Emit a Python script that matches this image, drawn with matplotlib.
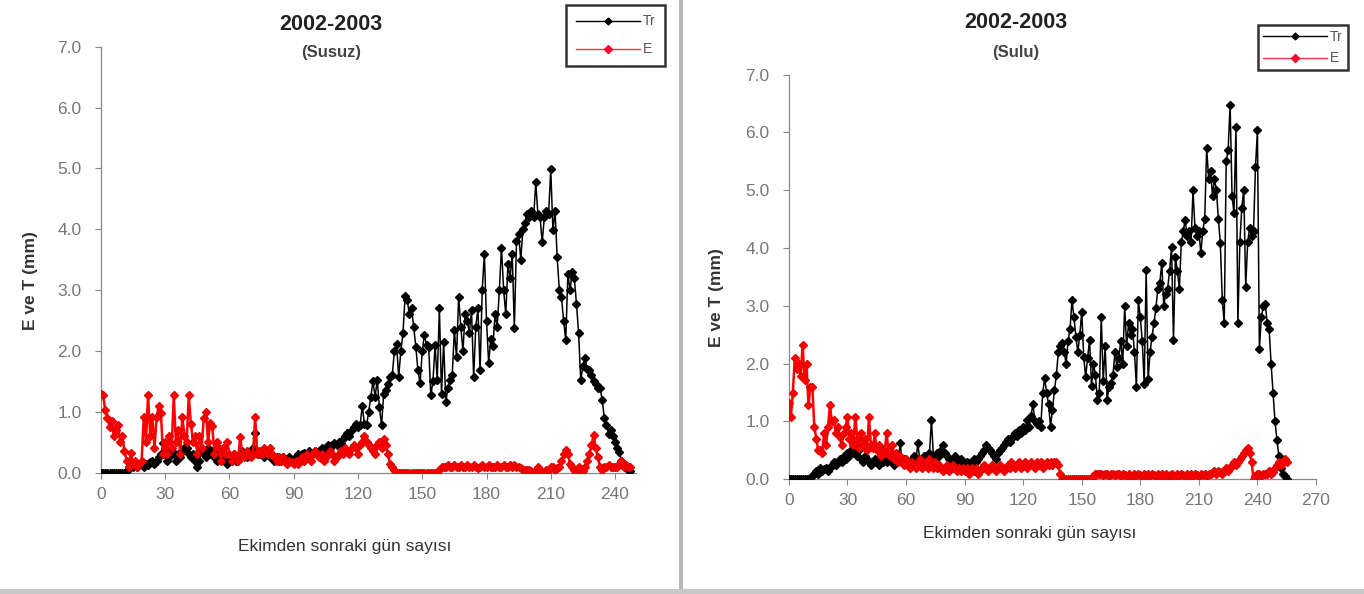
import matplotlib
matplotlib.use("Agg")
import matplotlib.pyplot as plt
from matplotlib.lines import Line2D
from matplotlib.patches import Rectangle
import numpy as np

plt.rcParams['font.family'] = ['Liberation Sans', 'DejaVu Sans']

# 2002-2003 Susuz (days 0..247)
susuz_tr = [
    0.0, 0.0, 0.0, 0.0, 0.0, 0.0, 0.0, 0.0, 0.0, 0.0,
    0.0, 0.0, 0.02, 0.1, 0.12, 0.1, 0.15, 0.1, 0.12, 0.15,
    0.1, 0.15, 0.12, 0.18, 0.2, 0.15, 0.2, 0.25, 0.3, 0.48,
    0.3, 0.2, 0.25, 0.35, 0.3, 0.2, 0.3, 0.25, 0.35, 0.4,
    0.4, 0.3, 0.25, 0.3, 0.2, 0.1, 0.2, 0.35, 0.3, 0.25,
    0.4, 0.3, 0.35, 0.25, 0.2, 0.3, 0.35, 0.3, 0.2, 0.15,
    0.2, 0.25, 0.3, 0.2, 0.25, 0.3, 0.35, 0.3, 0.25, 0.3,
    0.35, 0.4, 0.65, 0.35, 0.3, 0.3, 0.25, 0.3, 0.35, 0.25,
    0.25, 0.2, 0.25, 0.2, 0.22, 0.25, 0.2, 0.22, 0.25, 0.2,
    0.22, 0.25, 0.3, 0.28, 0.3, 0.32, 0.3, 0.35, 0.3, 0.32,
    0.35, 0.3, 0.35, 0.4, 0.38, 0.4, 0.45, 0.4, 0.45, 0.48,
    0.45, 0.5, 0.48, 0.55, 0.6, 0.65, 0.6, 0.7, 0.75, 0.8,
    0.75, 0.78, 1.1, 0.8, 0.78, 1.0, 1.25, 1.5, 1.25, 1.52,
    1.08, 0.78, 1.3, 1.36, 1.45, 1.57, 1.6, 2.0, 2.12, 1.57,
    2.0, 2.29, 2.9, 2.83, 2.6, 2.7, 2.4, 2.07, 1.68, 1.47,
    2.0, 2.26, 2.1, 2.07, 1.27, 1.5, 2.1, 1.52, 2.7, 1.3,
    2.15, 1.16, 1.4, 1.52, 1.6, 2.34, 1.9, 2.89, 2.4, 2.0,
    2.6, 2.5, 2.3, 2.67, 1.57, 2.4, 2.7, 1.68, 3.0, 3.6,
    2.5, 1.8, 2.2, 2.09, 2.6, 2.4, 3.0, 3.7, 3.0, 2.6,
    3.43, 3.2, 3.6, 2.37, 3.8, 3.93, 3.5, 4.0, 4.1, 4.25,
    4.2, 4.3, 4.2, 4.77, 4.25, 4.2, 3.79, 4.2, 4.3, 4.25,
    4.99, 3.98, 4.3, 3.54, 3.0, 2.89, 2.5, 2.18, 3.27, 3.0,
    3.3, 3.2, 2.78, 2.29, 1.52, 1.75, 1.88, 1.7, 1.69, 1.6,
    1.5, 1.45, 1.4, 1.39, 1.2, 0.9, 0.78, 0.64, 0.7, 0.6,
    0.5, 0.4, 0.34, 0.2, 0.15, 0.1, 0.05, 0.02,
]
susuz_e = [
    1.3, 1.27, 1.03, 0.9, 0.75, 0.85, 0.6, 0.7, 0.78, 0.5,
    0.6, 0.35, 0.2, 0.1, 0.32, 0.15, 0.2, 0.1, 0.15, 0.2,
    0.92, 0.5, 1.27, 0.6, 0.92, 0.4, 0.92, 1.1, 0.98, 0.3,
    0.5, 0.3, 0.6, 0.4, 1.27, 0.5, 0.7, 0.3, 0.92, 0.6,
    0.5, 1.27, 0.8, 0.5, 0.6, 0.3, 0.6, 0.4, 0.9, 1.0,
    0.5, 0.82, 0.76, 0.3, 0.5, 0.4, 0.2, 0.4, 0.3, 0.5,
    0.3, 0.2, 0.3, 0.25, 0.2, 0.59, 0.3, 0.25, 0.35, 0.3,
    0.25, 0.3, 0.92, 0.3, 0.35, 0.3, 0.4, 0.35, 0.3, 0.4,
    0.3, 0.25, 0.2, 0.25, 0.2, 0.25, 0.2, 0.15, 0.2, 0.18,
    0.15, 0.2, 0.15, 0.2, 0.25, 0.2, 0.3, 0.25, 0.2, 0.3,
    0.35, 0.3, 0.25, 0.3, 0.2, 0.25, 0.3, 0.35, 0.3, 0.2,
    0.25, 0.3, 0.35, 0.3, 0.4, 0.35, 0.3, 0.4, 0.45, 0.4,
    0.3, 0.45, 0.5, 0.6, 0.5, 0.45, 0.4, 0.35, 0.3, 0.45,
    0.5, 0.4, 0.55, 0.45, 0.3, 0.15, 0.1, 0.05, 0.0, 0.0,
    0.0, 0.0, 0.0, 0.0, 0.0, 0.0, 0.0, 0.0, 0.0, 0.0,
    0.0, 0.0, 0.0, 0.0, 0.0, 0.0, 0.0, 0.0, 0.05, 0.1,
    0.1, 0.1, 0.12, 0.1, 0.1, 0.12, 0.1, 0.1, 0.12, 0.1,
    0.1, 0.12, 0.1, 0.1, 0.12, 0.1, 0.08, 0.1, 0.12, 0.1,
    0.1, 0.12, 0.1, 0.1, 0.1, 0.12, 0.1, 0.1, 0.12, 0.1,
    0.1, 0.12, 0.1, 0.12, 0.1, 0.1, 0.08, 0.05, 0.05, 0.05,
    0.05, 0.02, 0.0, 0.05, 0.1, 0.05, 0.0, 0.0, 0.05, 0.05,
    0.1, 0.1, 0.05, 0.08, 0.1, 0.2, 0.3, 0.37, 0.3, 0.15,
    0.1, 0.05, 0.0, 0.1, 0.05, 0.02, 0.1, 0.2, 0.3, 0.45,
    0.62, 0.4, 0.25, 0.1, 0.05, 0.1, 0.1, 0.12, 0.1, 0.1,
    0.1, 0.1, 0.15, 0.2, 0.1, 0.12, 0.1, 0.1,
]

# 2002-2003 Sulu (days 0..255)
sulu_tr = [
    0.0, 0.0, 0.0, 0.0, 0.0, 0.0, 0.0, 0.0, 0.0, 0.0,
    0.0, 0.02, 0.05, 0.1, 0.15, 0.1, 0.2, 0.15, 0.18, 0.2,
    0.15, 0.2, 0.25, 0.3, 0.25, 0.3, 0.35, 0.3, 0.4, 0.35,
    0.45, 0.4, 0.5, 0.6, 0.45, 0.4, 0.5, 0.35, 0.3, 0.4,
    0.35, 0.3, 0.25, 0.3, 0.35, 0.3, 0.25, 0.4, 0.3, 0.35,
    0.3, 0.4, 0.35, 0.3, 0.25, 0.4, 0.35, 0.62, 0.3, 0.35,
    0.3, 0.25, 0.3, 0.35, 0.4, 0.3, 0.62, 0.35, 0.3, 0.4,
    0.35, 0.3, 0.45, 1.03, 0.4, 0.35, 0.45, 0.4, 0.5, 0.6,
    0.45, 0.4, 0.35, 0.3, 0.35, 0.4, 0.35, 0.3, 0.35, 0.3,
    0.25, 0.3, 0.28, 0.25, 0.3, 0.35, 0.3, 0.35, 0.4, 0.45,
    0.5, 0.6, 0.55, 0.5, 0.45, 0.4, 0.35, 0.45, 0.5, 0.55,
    0.6, 0.65, 0.7, 0.65, 0.7, 0.75, 0.8, 0.75, 0.85, 0.8,
    0.9, 0.85, 1.03, 0.9, 1.1, 1.3, 1.0, 0.95, 1.0, 0.9,
    1.5, 1.75, 1.5, 1.3, 0.91, 1.2, 1.54, 1.8, 2.2, 2.3,
    2.35, 2.2, 2.0, 2.4, 2.6, 3.1, 2.8, 2.47, 2.2, 2.5,
    2.9, 2.12, 1.77, 2.1, 2.41, 1.61, 2.0, 1.8, 1.38, 1.5,
    2.81, 1.7, 2.3, 1.38, 1.6, 1.67, 1.8, 2.2, 1.95, 2.1,
    2.4, 2.0, 3.0, 2.3, 2.7, 2.5, 2.6, 2.2, 1.6, 3.1,
    2.8, 2.4, 1.65, 3.62, 1.73, 2.2, 2.47, 2.7, 2.97, 3.3,
    3.4, 3.74, 3.0, 3.2, 3.3, 3.6, 4.02, 2.41, 3.85, 3.6,
    3.3, 4.1, 4.3, 4.49, 4.2, 4.3, 4.1, 5.0, 4.35, 4.2,
    4.3, 3.91, 4.3, 4.5, 5.73, 5.2, 5.33, 4.9, 5.2, 5.0,
    4.5, 4.08, 3.1, 2.7, 5.5, 5.7, 6.48, 4.9, 4.6, 6.1,
    2.7, 4.1, 4.7, 5.0, 3.33, 4.1, 4.35, 4.2, 4.3, 5.4,
    6.04, 2.26, 2.8, 3.0, 3.04, 2.7, 2.6, 2.0, 1.5, 1.0,
    0.68, 0.4, 0.2, 0.1, 0.05, 0.0,
]
sulu_e = [
    1.32, 1.08, 1.5, 2.1, 1.9, 2.0, 1.78, 2.32, 1.72, 2.0,
    1.28, 1.6, 1.6, 0.91, 0.7, 0.5, 0.5, 0.45, 0.8, 0.6,
    0.9, 1.28, 1.0, 1.02, 0.8, 0.9, 0.74, 0.6, 0.8, 0.9,
    1.08, 0.7, 0.8, 0.6, 1.08, 0.7, 0.55, 0.8, 0.6, 0.7,
    0.5, 1.08, 0.6, 0.55, 0.8, 0.5, 0.6, 0.4, 0.5, 0.45,
    0.8, 0.5, 0.4, 0.6, 0.35, 0.45, 0.3, 0.4, 0.3, 0.25,
    0.35, 0.3, 0.2, 0.3, 0.25, 0.2, 0.3, 0.35, 0.2, 0.25,
    0.3, 0.2, 0.35, 0.25, 0.2, 0.3, 0.2, 0.25, 0.2, 0.15,
    0.2, 0.25, 0.15, 0.2, 0.25, 0.2, 0.15, 0.2, 0.15, 0.2,
    0.15, 0.2, 0.1, 0.15, 0.2, 0.15, 0.2, 0.1, 0.15, 0.2,
    0.25, 0.2, 0.15, 0.2, 0.25, 0.2, 0.15, 0.2, 0.25, 0.2,
    0.15, 0.2, 0.25, 0.2, 0.3, 0.25, 0.2, 0.25, 0.3, 0.2,
    0.25, 0.3, 0.2, 0.25, 0.3, 0.25, 0.2, 0.3, 0.25, 0.3,
    0.2, 0.25, 0.3, 0.25, 0.3, 0.25, 0.3, 0.3, 0.25, 0.1,
    0.0, 0.0, 0.0, 0.0, 0.0, 0.0, 0.0, 0.0, 0.0, 0.0,
    0.0, 0.0, 0.0, 0.0, 0.0, 0.0, 0.05, 0.1, 0.1, 0.1,
    0.1, 0.08, 0.1, 0.1, 0.05, 0.1, 0.1, 0.08, 0.1, 0.1,
    0.05, 0.1, 0.08, 0.05, 0.1, 0.0, 0.05, 0.1, 0.05, 0.1,
    0.08, 0.05, 0.1, 0.0, 0.1, 0.05, 0.1, 0.08, 0.05, 0.1,
    0.05, 0.1, 0.0, 0.1, 0.05, 0.08, 0.1, 0.05, 0.0, 0.1,
    0.05, 0.1, 0.08, 0.05, 0.1, 0.05, 0.1, 0.05, 0.1, 0.08,
    0.05, 0.1, 0.08, 0.1, 0.05, 0.1, 0.1, 0.12, 0.15, 0.1,
    0.15, 0.12, 0.1, 0.15, 0.2, 0.15, 0.2, 0.25, 0.3, 0.25,
    0.3, 0.35, 0.4, 0.45, 0.5, 0.54, 0.45, 0.3, 0.0, 0.05,
    0.1, 0.1, 0.05, 0.1, 0.1, 0.1, 0.15, 0.1, 0.12, 0.2,
    0.25, 0.3, 0.25, 0.3, 0.35, 0.3,
]

panels = [
    dict(tr=susuz_tr, e=susuz_e, sub="(Susuz)", xmax=250,
         xticks=[0, 30, 60, 90, 120, 150, 180, 210, 240],
         rect=[0.074, 0.2042, 0.3926, 0.7172],
         title_y=(0.958, 0.912), leg=(0.4875, 0.992), leg_sp=1.0,
         leg_pad=0.7, ylab_x=0.022, xlab_y=0.08),
    dict(tr=sulu_tr, e=sulu_e, sub="(Sulu)", xmax=270,
         xticks=[0, 30, 60, 90, 120, 150, 180, 210, 240, 270],
         rect=[0.5784, 0.1931, 0.3864, 0.6813],
         title_y=(0.962, 0.912), leg=(0.988, 0.958), leg_sp=0.55,
         leg_pad=0.35, ylab_x=0.525, xlab_y=0.102),
]

fig = plt.figure(figsize=(13.64, 5.94), dpi=100)
gray = '#888888'

for p in panels:
    ax = fig.add_axes(p['rect'])
    days_tr = np.arange(len(p['tr']))
    days_e = np.arange(len(p['e']))
    ax.plot(days_tr, p['tr'], color='black', lw=1.1, marker='D', ms=3.6,
            label='Tr', zorder=3)
    ax.plot(days_e, p['e'], color='#ff0000', lw=1.8, marker='D', ms=4.2,
            mec='#e80000', label='E', zorder=4)
    ax.set_xlim(0, p['xmax'])
    ax.set_ylim(0, 7.0)
    ax.set_xticks(p['xticks'])
    ax.set_yticks(np.arange(0, 7.5, 1.0))
    ax.set_yticklabels([f"{v:.1f}" for v in np.arange(0, 7.5, 1.0)])
    for s in ['top', 'right']:
        ax.spines[s].set_visible(False)
    for s in ['left', 'bottom']:
        ax.spines[s].set_color(gray)
        ax.spines[s].set_linewidth(0.9)
    ax.tick_params(colors=gray, labelcolor='#777777', labelsize=12.5,
                   length=4, width=0.8, direction='out')
    ax.tick_params(axis='y', pad=10)
    ax.tick_params(axis='x', pad=6)

    cx = p['rect'][0] + p['rect'][2] * 0.43
    fig.text(cx, p['title_y'][0], "2002-2003", ha='center', va='center',
             fontsize=15.5, fontweight='bold', color='#222222')
    fig.text(cx, p['title_y'][1], p['sub'], ha='center', va='center',
             fontsize=12, fontweight='bold', color='#444444')
    fig.text(p['ylab_x'], p['rect'][1] + p['rect'][3] * 0.45, "E ve T (mm)",
             rotation=90, ha='center', va='center', fontsize=12.5,
             fontweight='bold', color='#333333')
    fig.text(cx + 0.01, p['xlab_y'], "Ekimden sonraki gün sayısı",
             ha='center', va='center', fontsize=12.5, color='#333333')

    handles = [
        Line2D([], [], color='black', lw=1.0, marker='D', ms=3.5),
        Line2D([], [], color='#ff3050', lw=1.0, marker='D', ms=4,
               mfc='#ff0030', mec='#ff0030'),
    ]
    leg = fig.legend(handles, ['Tr', 'E'], loc='upper right',
                     bbox_to_anchor=p['leg'], fontsize=10, frameon=True,
                     fancybox=False, handlelength=4.6, handletextpad=0.2,
                     borderpad=p['leg_pad'], labelspacing=p['leg_sp'],
                     labelcolor='#555555', borderaxespad=0)
    leg.get_frame().set_edgecolor('black')
    leg.get_frame().set_linewidth(1.8)

# panel separators
fig.add_artist(Rectangle((0.4975, 0), 0.0035, 1, transform=fig.transFigure,
                         color='#b8b8b8', lw=0))
fig.add_artist(Rectangle((0, 0), 1, 0.008, transform=fig.transFigure,
                         color='#c8c8c8', lw=0))

fig.savefig('out.png', dpi=100)
